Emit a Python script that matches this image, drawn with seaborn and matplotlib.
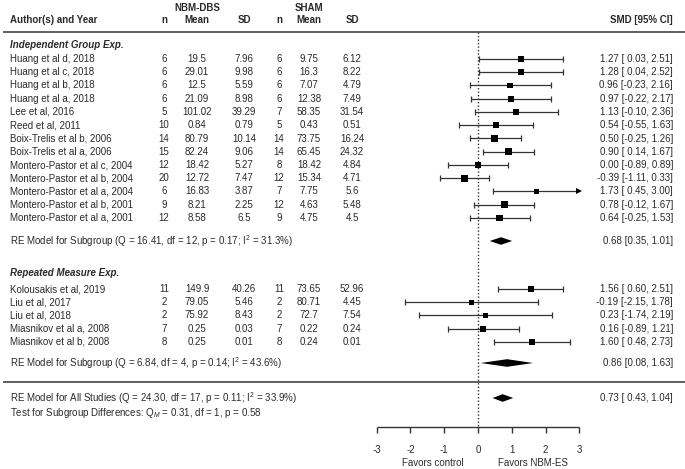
import numpy as np
import pandas as pd
import matplotlib
matplotlib.use('Agg')
import matplotlib.pyplot as plt
import seaborn as sns

sns.set_theme(style='white')
plt.rcParams['font.family'] = ['Liberation Sans', 'DejaVu Sans']
plt.rcParams['mathtext.fontset'] = 'custom'
plt.rcParams['mathtext.rm'] = 'Liberation Sans'
plt.rcParams['mathtext.it'] = 'Liberation Sans:italic'

# ---- data ----
g1_names = ['Huang et al d, 2018', 'Huang et al c, 2018', 'Huang et al b, 2018', 'Huang et al a, 2018',
            'Lee et al, 2016', 'Reed et al, 2011', 'Boix-Trelis et al b, 2006', 'Boix-Trelis et al a, 2006',
            'Montero-Pastor et al c, 2004', 'Montero-Pastor et al b, 2004', 'Montero-Pastor et al a, 2004',
            'Montero-Pastor et al b, 2001', 'Montero-Pastor et al a, 2001']
g1_n1 = ['6', '6', '6', '6', '5', '10', '14', '15', '12', '20', '6', '9', '12']
g1_m1 = ['19.5', '29.01', '12.5', '21.09', '101.02', '0.84', '80.79', '82.24', '18.42', '12.72', '16.83', '8.21', '8.58']
g1_sd1 = ['7.96', '9.98', '5.59', '8.98', '39.29', '0.79', '10.14', '9.06', '5.27', '7.47', '3.87', '2.25', '6.5']
g1_n2 = ['6', '6', '6', '6', '7', '5', '14', '14', '8', '12', '7', '12', '9']
g1_m2 = ['9.75', '16.3', '7.07', '12.38', '58.35', '0.43', '73.75', '65.45', '18.42', '15.34', '7.75', '4.63', '4.75']
g1_sd2 = ['6.12', '8.22', '4.79', '7.49', '31.54', '0.51', '16.24', '24.32', '4.84', '4.71', '5.6', '5.48', '4.5']
g1_smd = [1.27, 1.28, 0.96, 0.97, 1.13, 0.54, 0.50, 0.90, 0.00, -0.39, 1.73, 0.78, 0.64]
g1_lo = [0.03, 0.04, -0.23, -0.22, -0.10, -0.55, -0.25, 0.14, -0.89, -1.11, 0.45, -0.12, -0.25]
g1_hi = [2.51, 2.52, 2.16, 2.17, 2.36, 1.63, 1.26, 1.67, 0.89, 0.33, 3.00, 1.67, 1.53]

g2_names = ['Kolousakis et al, 2019', 'Liu et al, 2017', 'Liu et al, 2018',
            'Miasnikov et al a, 2008', 'Miasnikov et al b, 2008']
g2_n1 = ['11', '2', '2', '7', '8']
g2_m1 = ['149.9', '79.05', '75.92', '0.25', '0.25']
g2_sd1 = ['40.26', '5.46', '8.43', '0.03', '0.01']
g2_n2 = ['11', '2', '2', '7', '8']
g2_m2 = ['73.65', '80.71', '72.7', '0.22', '0.24']
g2_sd2 = ['52.96', '4.45', '7.54', '0.24', '0.01']
g2_smd = [1.56, -0.19, 0.23, 0.16, 1.60]
g2_lo = [0.60, -2.15, -1.74, -0.89, 0.48]
g2_hi = [2.51, 1.78, 2.19, 1.21, 2.73]

summ_labels = ['RE Model for Subgroup (Q = 16.41, df = 12, p = 0.17; I$^2$ = 31.3%)',
               'RE Model for Subgroup (Q = 6.84, df = 4, p = 0.14; I$^2$ = 43.6%)',
               'RE Model for All Studies (Q = 24.30, df = 17, p = 0.11; I$^2$ = 33.9%)']
summ_est = [0.68, 0.86, 0.73]
summ_lo = [0.35, 0.08, 0.43]
summ_hi = [1.01, 1.63, 1.04]
summ_txt = ['0.68 [0.35, 1.01]', '0.86 [0.08, 1.63]', '0.73 [ 0.43, 1.04]']

ticks = [-3, -2, -1, 0, 1, 2, 3]

# ---- layout (pixel units) ----
W, H = 685, 469
X0, UNIT = 478, 33.8          # pixel of SMD = 0, pixels per SMD unit
def px(p):
    return (p - X0) / UNIT

STEP = 13.25
y_g1 = 59 + STEP * np.arange(len(g1_names))
y_g2 = 289 + STEP * np.arange(len(g2_names))
y_summ = [241, 363, 398]
AX_Y = 427
TXT = '#2a2a2a'
LINE = '#333333'
FS = 7

fig = plt.figure(figsize=(W / 100, H / 100), dpi=100)
ax = fig.add_axes([0, 0, 1, 1])
ax.set_xlim(px(0), px(W))
ax.set_ylim(H, 0)
ax.axis('off')

studies = pd.DataFrame({
    'name': g1_names + g2_names,
    'n1': g1_n1 + g2_n1, 'm1': g1_m1 + g2_m1, 'sd1': g1_sd1 + g2_sd1,
    'n2': g1_n2 + g2_n2, 'm2': g1_m2 + g2_m2, 'sd2': g1_sd2 + g2_sd2,
    'smd': g1_smd + g2_smd, 'lo': g1_lo + g2_lo, 'hi': g1_hi + g2_hi,
    'y': np.concatenate([y_g1, y_g2]),
})
# inverse-variance weights from the CI width -> square size
se = (studies['hi'] - studies['lo']) / (2 * 1.96)
studies['w'] = 1 / se ** 2

# confidence intervals
xmax = ticks[-1]
for _, r in studies.iterrows():
    hi = min(r['hi'], xmax)
    ax.hlines(r['y'], r['lo'], hi, color=LINE, lw=0.9)
    ax.vlines(r['lo'], r['y'] - 3, r['y'] + 3, color=LINE, lw=0.9)
    if r['hi'] >= xmax:
        ax.plot(hi, r['y'], marker='>', color='black', ms=5, mew=0)
    else:
        ax.vlines(hi, r['y'] - 3, r['y'] + 3, color=LINE, lw=0.9)

sns.scatterplot(data=studies, x='smd', y='y', size='w', sizes=(15, 27), marker='s',
                color='black', edgecolor='black', linewidth=0, legend=False, ax=ax, zorder=3)

# summary diamonds
for est, lo, hi, y in zip(summ_est, summ_lo, summ_hi, y_summ):
    ax.fill([lo, est, hi, est], [y, y - 3.8, y, y + 3.8], color='black', lw=0)

# reference line at 0
ax.vlines(0, 32, AX_Y, color=LINE, lw=1, linestyles=(0, (1, 1.5)))

# separators
ax.hlines([32, 382], px(3), px(W), color='#444444', lw=1.2)

# bottom axis
ax.hlines(AX_Y, ticks[0], ticks[-1], color=LINE, lw=1)
for t in ticks:
    ax.vlines(t, AX_Y, AX_Y + 6, color=LINE, lw=1)
    ax.text(t, 450, f'{t}', ha='center', va='center', fontsize=FS, color=TXT)
ax.text(px(433), 463, 'Favors control', ha='center', va='center', fontsize=FS, color=TXT)
ax.text(px(533), 463, 'Favors NBM-ES', ha='center', va='center', fontsize=FS, color=TXT)

# header
cols = {'n1': 164, 'm1': 197, 'sd1': 244, 'n2': 279, 'm2': 309, 'sd2': 352}
hdr = {'n1': 'n', 'm1': 'Mean', 'sd1': 'SD', 'n2': 'n', 'm2': 'Mean', 'sd2': 'SD'}
for k, p in cols.items():
    ax.text(px(p), 20, hdr[k], ha='center', va='center', fontsize=FS, fontweight='bold', color=TXT)
ax.text(px(197), 8, 'NBM-DBS', ha='center', va='center', fontsize=FS, fontweight='bold', color=TXT)
ax.text(px(309), 8, 'SHAM', ha='center', va='center', fontsize=FS, fontweight='bold', color=TXT)
ax.text(px(10), 20, 'Author(s) and Year', ha='left', va='center', fontsize=FS, fontweight='bold', color=TXT)
ax.text(px(673), 20, 'SMD [95% CI]', ha='right', va='center', fontsize=FS, fontweight='bold', color=TXT)

ax.text(px(10), 45, 'Independent Group Exp.', ha='left', va='center', fontsize=FS,
        fontweight='bold', fontstyle='italic', color=TXT)
ax.text(px(10), 273, 'Repeated Measure Exp.', ha='left', va='center', fontsize=FS,
        fontweight='bold', fontstyle='italic', color=TXT)

# study rows
for _, r in studies.iterrows():
    ax.text(px(10), r['y'], r['name'], ha='left', va='center', fontsize=FS, color=TXT)
    for k, p in cols.items():
        ax.text(px(p), r['y'], r[k], ha='center', va='center', fontsize=FS, color=TXT)
    ax.text(px(673), r['y'], f"{r['smd']:.2f} [{r['lo']:5.2f}, {r['hi']:.2f}]",
            ha='right', va='center', fontsize=FS, color=TXT)

# summary rows
for lab, txt, y in zip(summ_labels, summ_txt, y_summ):
    ax.text(px(10), y, lab, ha='left', va='center', fontsize=FS, color=TXT)
    ax.text(px(673), y, txt, ha='right', va='center', fontsize=FS, color=TXT)
ax.text(px(10), 413, 'Test for Subgroup Differences: Q$_M$ = 0.31, df = 1, p = 0.58',
        ha='left', va='center', fontsize=FS, color=TXT)

fig.savefig('out.png', dpi=100)
